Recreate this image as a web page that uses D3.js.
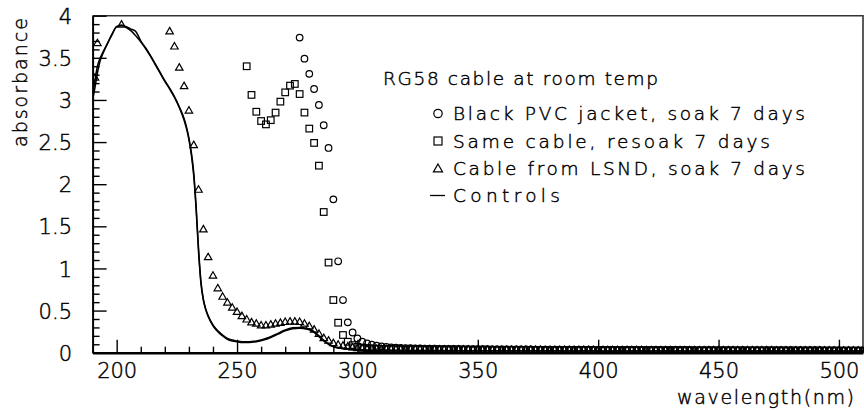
<!DOCTYPE html>
<html>
<head>
<meta charset="utf-8">
<script src="https://cdn.jsdelivr.net/npm/d3@7"></script>
<style>
  html, body { margin: 0; padding: 0; background: #fff; }
  svg { display: block; }
  text { font-family: "DejaVu Sans", sans-serif; font-weight: 200; fill: #000; stroke: #000; stroke-width: 0.45px; }
</style>
</head>
<body>
<svg id="chart" width="864" height="411"></svg>
<script>
// ---------- data ----------
const xTicksMajor = [200, 250, 300, 350, 400, 450, 500];
const yTicksMajor = [0, 0.5, 1, 1.5, 2, 2.5, 3, 3.5, 4];
const yTickLabels = ["0", "0.5", "1", "1.5", "2", "2.5", "3", "3.5", "4"];

const legendTitle = "RG58 cable at room temp";
const seriesNames = ["Black PVC jacket, soak 7 days", "Same cable, resoak 7 days", "Cable from LSND, soak 7 days", "Controls"];

// shared wavelength grid for the flat tail (nm)
const tailWavelengths = [310,312,314,316,318,320,322,324,326,328,330,332,334,336,338,340,342,344,346,348,
  350,352,354,356,358,360,362,364,366,368,370,372,374,376,378,380,382,384,386,388,
  390,392,394,396,398,400,402,404,406,408,410,412,414,416,418,420,422,424,426,428,
  430,432,434,436,438,440,442,444,446,448,450,452,454,456,458,460,462,464,466,468,
  470,472,474,476,478,480,482,484,486,488,490,492,494,496,498,500,502,504,506,508,510];

// Circles: Black PVC jacket, soak 7 days
const circleWavelengths = [276,278,280,282,284,286,288,290,292,294,296,298,300,302,304,306,308];
const circleValues = [3.74,3.49,3.31,3.13,2.94,2.70,2.43,1.82,1.085,0.625,0.36,0.24,0.17,0.13,0.11,0.095,0.083];
const circleTail = [0.075,0.068,0.063,0.060,0.057,0.055,0.053,0.052,0.050,0.049,
  0.048,0.047,0.046,0.046,0.045,0.044,0.044,0.043,0.043,0.042,
  0.042,0.041,0.041,0.040,0.040,0.040,0.039,0.039,0.039,0.038,
  0.038,0.038,0.037,0.037,0.037,0.037,0.036,0.036,0.036,0.036,
  0.035,0.035,0.035,0.035,0.035,0.034,0.034,0.034,0.034,0.034,
  0.034,0.033,0.033,0.033,0.033,0.033,0.033,0.032,0.032,0.032,
  0.032,0.032,0.032,0.032,0.031,0.031,0.031,0.031,0.031,0.031,
  0.031,0.031,0.030,0.030,0.030,0.030,0.030,0.030,0.030,0.030,
  0.030,0.030,0.029,0.029,0.029,0.029,0.029,0.029,0.029,0.029,
  0.029,0.029,0.028,0.028,0.028,0.028,0.028,0.028,0.028,0.028,0.028];

// Squares: Same cable, resoak 7 days
const squareWavelengths = [254,256,258,260,262,264,266,268,270,272,274,276,278,280,282,284,286,288,290,292,294,296,298,300,302,304,306,308];
const squareValues = [3.40,3.06,2.86,2.75,2.71,2.76,2.85,2.98,3.09,3.17,3.19,3.07,2.85,2.66,2.49,2.22,1.67,1.07,0.625,0.356,0.21,0.13,0.09,0.07,0.06,0.055,0.05,0.047];
const squareTail = [0.045,0.044,0.043,0.042,0.041,0.041,0.040,0.040,0.039,0.039,
  0.038,0.038,0.038,0.037,0.037,0.037,0.036,0.036,0.036,0.035,
  0.035,0.035,0.035,0.034,0.034,0.034,0.034,0.033,0.033,0.033,
  0.033,0.033,0.032,0.032,0.032,0.032,0.032,0.031,0.031,0.031,
  0.031,0.031,0.031,0.030,0.030,0.030,0.030,0.030,0.030,0.030,
  0.029,0.029,0.029,0.029,0.029,0.029,0.029,0.028,0.028,0.028,
  0.028,0.028,0.028,0.028,0.028,0.027,0.027,0.027,0.027,0.027,
  0.027,0.027,0.027,0.027,0.026,0.026,0.026,0.026,0.026,0.026,
  0.026,0.026,0.026,0.026,0.025,0.025,0.025,0.025,0.025,0.025,
  0.025,0.025,0.025,0.025,0.025,0.024,0.024,0.024,0.024,0.024,0.024];

// Triangles: Cable from LSND, soak 7 days
const triangleWavelengths = [191,192,202,222,224,226,228,230,232,234,236,238,240,242,244,246,248,250,252,254,256,258,260,262,264,266,268,270,272,274,276,278,280,282,284,286,288,290,292,294,296,298,300,302,304,306,308];
const triangleValues = [3.26,3.67,3.89,3.81,3.63,3.38,3.16,2.87,2.46,1.93,1.46,1.13,0.91,0.76,0.66,0.59,0.53,0.48,0.43,0.39,0.356,0.34,0.32,0.32,0.33,0.34,0.35,0.36,0.365,0.365,0.36,0.34,0.31,0.27,0.22,0.17,0.14,0.11,0.09,0.08,0.07,0.06,0.05,0.047,0.044,0.042,0.040];
const triangleTail = [0.039,0.038,0.037,0.036,0.036,0.035,0.035,0.034,0.034,0.033,
  0.033,0.033,0.032,0.032,0.032,0.031,0.031,0.031,0.031,0.030,
  0.030,0.030,0.030,0.029,0.029,0.029,0.029,0.029,0.028,0.028,
  0.028,0.028,0.028,0.028,0.027,0.027,0.027,0.027,0.027,0.027,
  0.026,0.026,0.026,0.026,0.026,0.026,0.026,0.025,0.025,0.025,
  0.025,0.025,0.025,0.025,0.025,0.024,0.024,0.024,0.024,0.024,
  0.024,0.024,0.024,0.023,0.023,0.023,0.023,0.023,0.023,0.023,
  0.023,0.023,0.022,0.022,0.022,0.022,0.022,0.022,0.022,0.022,
  0.022,0.022,0.021,0.021,0.021,0.021,0.021,0.021,0.021,0.021,
  0.021,0.021,0.021,0.020,0.020,0.020,0.020,0.020,0.020,0.020,0.020];

// Controls (two measurements, drawn as lines)
const controlAWavelengths = [190,191,192,193,194,196,198,200,202,204,206,208,210,212,214,216,218,220,222,224,226,228,229,230,231,232,233,234,235,236,237,238,240,242,244,246,248,250,252,255,258,261,264,267,270,273,276,279,282,284,286,288,291,295,300,310,320,350,400,450,510];
const controlAValues = [3.00,3.15,3.32,3.45,3.53,3.66,3.78,3.87,3.89,3.86,3.82,3.76,3.69,3.61,3.52,3.42,3.32,3.22,3.13,3.03,2.91,2.76,2.66,2.53,2.35,2.10,1.70,1.20,0.82,0.62,0.51,0.43,0.32,0.25,0.20,0.16,0.14,0.13,0.12,0.12,0.13,0.15,0.18,0.22,0.26,0.285,0.29,0.28,0.24,0.19,0.14,0.10,0.06,0.045,0.035,0.028,0.025,0.022,0.02,0.02,0.02];
const controlBWavelengths = [190,191,192,193,194,196,198,200,202,204,206,207,208,209,210,212,214,216,218,220,222,224,226,228,229,230,231,232,233,234,235,236,237,238,240,242,244,246,248,250,252,255,258,261,264,267,270,273,276,279,282,284,286,288,291,295,300,310,320,350,400,450,510];
const controlBValues = [3.06,3.24,3.40,3.49,3.55,3.66,3.77,3.87,3.88,3.87,3.84,3.83,3.81,3.76,3.70,3.62,3.53,3.43,3.33,3.23,3.14,3.04,2.92,2.78,2.68,2.55,2.38,2.14,1.74,1.24,0.85,0.64,0.52,0.44,0.33,0.26,0.21,0.17,0.15,0.14,0.13,0.13,0.14,0.16,0.19,0.23,0.27,0.295,0.30,0.29,0.25,0.20,0.15,0.105,0.065,0.047,0.036,0.029,0.026,0.023,0.021,0.021,0.021];

// ---------- layout ----------
const svg = d3.select("#chart");
const x = d3.scaleLinear().domain([190, 510]).range([92.6, 863]);
const y = d3.scaleLinear().domain([0, 4]).range([352.7, 15.7]);

svg.append("defs").append("clipPath").attr("id", "plotclip")
  .append("rect")
  .attr("x", x(190)).attr("y", y(4))
  .attr("width", x(510) - x(190)).attr("height", y(0) - y(4));

// frame (top & right)
svg.append("path")
  .attr("d", d3.line()([[x(190), y(4)], [x(510), y(4)], [x(510), y(0)]]))
  .attr("fill", "none").attr("stroke", "#333").attr("stroke-width", 1.6);

// x axis minor ticks
const xMinor = d3.range(190, 511, 10).filter(v => !xTicksMajor.includes(v));
const xMinorAxis = d3.axisBottom(x).tickValues(xMinor).tickSize(-6).tickSizeOuter(0).tickFormat("");
svg.append("g").attr("transform", `translate(0,${y(0)})`).call(xMinorAxis)
  .call(g => g.select(".domain").remove())
  .call(g => g.selectAll("line").attr("stroke", "#000").attr("stroke-width", 1.4));

const xAxis = d3.axisBottom(x).tickValues(xTicksMajor).tickSize(-13).tickSizeOuter(0).tickPadding(10.4).tickFormat(d => String(d));
svg.append("g").attr("transform", `translate(0,${y(0)})`).call(xAxis)
  .call(g => g.select(".domain").attr("stroke", "#000").attr("stroke-width", 2.4))
  .call(g => g.selectAll("line").attr("stroke", "#000").attr("stroke-width", 1.4))
  .call(g => g.selectAll("text").attr("font-size", 21).attr("font-family", "DejaVu Sans, sans-serif").attr("fill", "#000"));

// y axis
const yMinor = d3.range(0, 41, 1).map(v => v / 10).filter(v => Math.round(v * 10) % 5 !== 0);
const yMinorAxis = d3.axisLeft(y).tickValues(yMinor).tickSize(-7).tickSizeOuter(0).tickFormat("");
svg.append("g").attr("transform", `translate(${x(190)},0)`).call(yMinorAxis)
  .call(g => g.select(".domain").remove())
  .call(g => g.selectAll("line").attr("stroke", "#000").attr("stroke-width", 1.4));

const yAxis = d3.axisLeft(y).tickValues(yTicksMajor).tickSize(-14).tickSizeOuter(0).tickPadding(20.6)
  .tickFormat((d, i) => yTickLabels[i]);
svg.append("g").attr("transform", `translate(${x(190)},0)`).call(yAxis)
  .call(g => g.select(".domain").attr("stroke", "#000").attr("stroke-width", 2))
  .call(g => g.selectAll("line").attr("stroke", "#000").attr("stroke-width", 1.4))
  .call(g => g.selectAll("text").attr("font-size", 21).attr("font-family", "DejaVu Sans, sans-serif").attr("fill", "#000").attr("dy", "0.36em"));

// axis titles
svg.append("text").attr("x", 854).attr("y", 404).attr("text-anchor", "end")
  .attr("font-size", 19).attr("textLength", 177).attr("lengthAdjust", "spacing")
  .text("wavelength(nm)");
svg.append("text").attr("transform", "translate(27,147) rotate(-90)").attr("text-anchor", "start")
  .attr("font-size", 19).attr("textLength", 129).attr("lengthAdjust", "spacing")
  .text("absorbance");

// ---------- data marks ----------
const plot = svg.append("g").attr("clip-path", "url(#plotclip)");

const line = d3.line().x(d => x(d[0])).y(d => y(d[1])).curve(d3.curveMonotoneX);
const ctrlA = controlAWavelengths.map((w, i) => [w, controlAValues[i]]);
const ctrlB = controlBWavelengths.map((w, i) => [w, controlBValues[i]]);
[ctrlA, ctrlB].forEach(d => {
  plot.append("path").datum(d).attr("d", line)
    .attr("fill", "none").attr("stroke", "#000").attr("stroke-width", 1.5);
});

const circles = circleWavelengths.map((w, i) => [w, circleValues[i]])
  .concat(tailWavelengths.map((w, i) => [w, circleTail[i]]));
const squares = squareWavelengths.map((w, i) => [w, squareValues[i]])
  .concat(tailWavelengths.map((w, i) => [w, squareTail[i]]));
const triangles = triangleWavelengths.map((w, i) => [w, triangleValues[i]])
  .concat(tailWavelengths.map((w, i) => [w, triangleTail[i]]));

const mk = { fill: "none", stroke: "#000", sw: 1.2 };
plot.append("g").selectAll("circle").data(circles).join("circle")
  .attr("cx", d => x(d[0])).attr("cy", d => y(d[1])).attr("r", 3.3)
  .attr("fill", mk.fill).attr("stroke", mk.stroke).attr("stroke-width", mk.sw);

const sq = 6.6;
plot.append("g").selectAll("rect").data(squares).join("rect")
  .attr("x", d => x(d[0]) - sq / 2).attr("y", d => y(d[1]) - sq / 2)
  .attr("width", sq).attr("height", sq)
  .attr("fill", mk.fill).attr("stroke", mk.stroke).attr("stroke-width", mk.sw);

const tri = d3.symbol().type(d3.symbolTriangle).size(24);
plot.append("g").selectAll("path").data(triangles).join("path")
  .attr("transform", d => `translate(${x(d[0])},${y(d[1])})`)
  .attr("d", tri)
  .attr("fill", mk.fill).attr("stroke", mk.stroke).attr("stroke-width", mk.sw);

// ---------- legend ----------
const lg = svg.append("g");
lg.append("text").attr("x", 383).attr("y", 85).attr("font-size", 18.5)
  .attr("textLength", 275).attr("lengthAdjust", "spacing").text(legendTitle);

const entryY = [120, 147.5, 175, 202];
const entryW = [352, 317, 352, 107];
seriesNames.forEach((name, i) => {
  lg.append("text").attr("x", 453).attr("y", entryY[i]).attr("font-size", 18.5)
    .attr("textLength", entryW[i]).attr("lengthAdjust", "spacing").text(name);
});
const sy = entryY.map(v => v - 6.5);
lg.append("circle").attr("cx", 438).attr("cy", sy[0]).attr("r", 4.2)
  .attr("fill", "none").attr("stroke", "#000").attr("stroke-width", 1.2);
lg.append("rect").attr("x", 434).attr("y", sy[1] - 4).attr("width", 8).attr("height", 8)
  .attr("fill", "none").attr("stroke", "#000").attr("stroke-width", 1.2);
lg.append("path").attr("transform", `translate(438,${sy[2] + 0.8})`)
  .attr("d", d3.symbol().type(d3.symbolTriangle).size(36))
  .attr("fill", "none").attr("stroke", "#000").attr("stroke-width", 1.2);
lg.append("line").attr("x1", 430).attr("x2", 445).attr("y1", sy[3]).attr("y2", sy[3])
  .attr("stroke", "#000").attr("stroke-width", 1.3);
</script>
</body>
</html>
